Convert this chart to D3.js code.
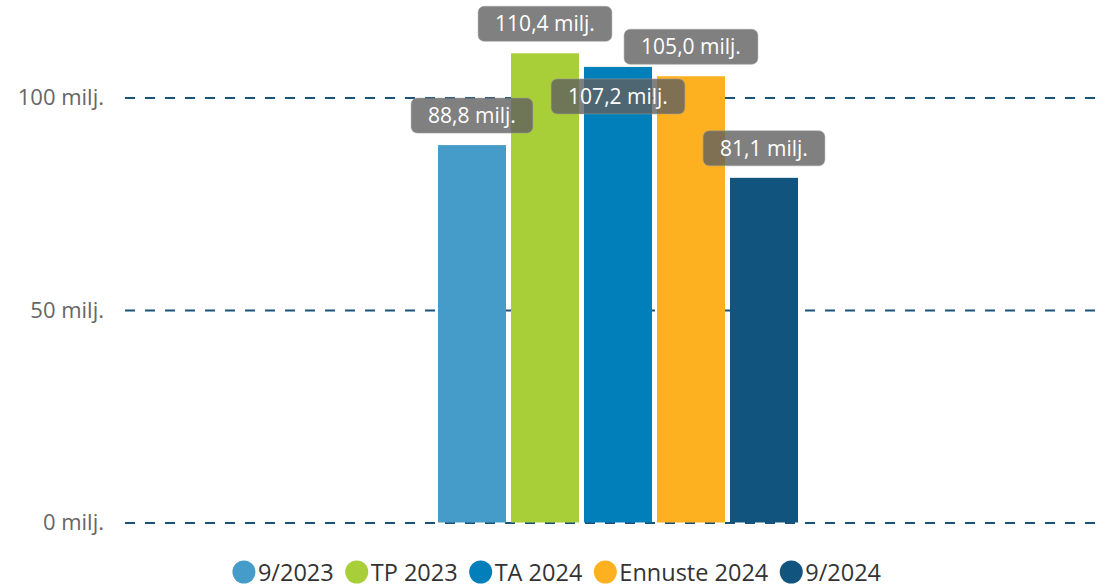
<!DOCTYPE html>
<html>
<head>
<meta charset="utf-8">
<script src="https://cdn.jsdelivr.net/npm/d3@7"></script>
<style>
  body { margin: 0; background: #fff; }
  text { font-family: "Open Sans", "Noto Sans", sans-serif; }
</style>
</head>
<body>
<div id="main"></div>
<script>
// values in millions (milj.)
var seriesNames = ["9/2023", "TP 2023", "TA 2024", "Ennuste 2024", "9/2024"];
var seriesValues = [88.8, 110.4, 107.2, 105.0, 81.1];
var seriesColors = ["#469cc8", "#a8ce38", "#007fba", "#fdb020", "#11547d"];
var yTicks = [0, 50, 100];

var width = 1104, height = 588;

var svg = d3.select("#main")
        .append("svg")
        .attr("width", width)
        .attr("height", height);

var y = d3.scaleLinear()
        .domain([0, 100])
        .range([522.5, 97.5]);

var x = d3.scaleBand()
        .domain(seriesNames)
        .range([435.5, 800.5])
        .paddingInner(5 / 73)
        .paddingOuter(2.5 / 73);

var fmt = function(v) {
    return d3.format(".1f")(v).replace(".", ",") + " milj.";
};

// grid lines + y axis labels
var yAxis = d3.axisLeft(y)
        .tickValues(yTicks)
        .tickSize(-975)
        .tickPadding(21)
        .tickFormat(function(d) { return d + " milj."; });

var axisG = svg.append("g")
        .attr("transform", "translate(125,0)")
        .call(yAxis);
axisG.select(".domain").remove();
axisG.selectAll(".tick line")
    .attr("stroke", "#1a527c")
    .attr("stroke-width", 2)
    .attr("stroke-dasharray", "10,10");
axisG.selectAll(".tick text")
    .attr("fill", "#666")
    .style("font-size", "22px")
    .attr("font-family", null);

// bars
svg.append("g")
    .selectAll("rect")
    .data(seriesValues)
    .enter()
    .append("rect")
    .attr("x", function(d, i) { return x(seriesNames[i]); })
    .attr("y", function(d) { return y(d); })
    .attr("width", x.bandwidth())
    .attr("height", function(d) { return y(0) - y(d); })
    .attr("fill", function(d, i) { return seriesColors[i]; });

// data labels, moved inside the bar when they would collide with an earlier one
var labelG = svg.append("g");
var placed = [];
seriesValues.forEach(function(v, i) {
    var g = labelG.append("g");
    var t = g.append("text")
            .attr("fill", "#fff")
            .attr("text-anchor", "middle")
            .style("font-size", "21px")
            .text(fmt(v));
    var w = t.node().getComputedTextLength() + 34, h = 35;
    var cx = x(seriesNames[i]) + x.bandwidth() / 2;
    var top = y(v) - 12 - h;
    var box = { x0: cx - w / 2, x1: cx + w / 2, y0: top, y1: top + h };
    var hit = placed.some(function(b) {
        return box.x0 < b.x1 && box.x1 > b.x0 && box.y0 < b.y1 && box.y1 > b.y0;
    });
    if (hit) {
        top = y(v) + 12;
        box.y0 = top; box.y1 = top + h;
    }
    placed.push(box);
    g.insert("rect", "text")
        .attr("x", box.x0)
        .attr("y", box.y0)
        .attr("width", w)
        .attr("height", h)
        .attr("rx", 6)
        .attr("fill", "rgba(96,96,96,0.8)")
        .attr("stroke", "rgba(160,160,160,0.5)")
        .attr("stroke-width", 1);
    t.attr("x", cx).attr("y", box.y0 + h / 2 + 7.5);
});

// legend
var legend = svg.append("g");
var lx = 0;
seriesNames.forEach(function(name, i) {
    var item = legend.append("g").attr("transform", "translate(" + lx + ",0)");
    item.append("circle")
        .attr("cx", 11)
        .attr("cy", 0)
        .attr("r", 11.5)
        .attr("fill", seriesColors[i]);
    var t = item.append("text")
            .attr("x", 25)
            .attr("y", 8.5)
            .attr("fill", "#333")
            .style("font-size", "23.5px")
            .text(name);
    lx += 25 + t.node().getComputedTextLength() + 12;
});
lx -= 12;
legend.attr("transform", "translate(" + (557 - lx / 2) + ",572)");
</script>
</body>
</html>
